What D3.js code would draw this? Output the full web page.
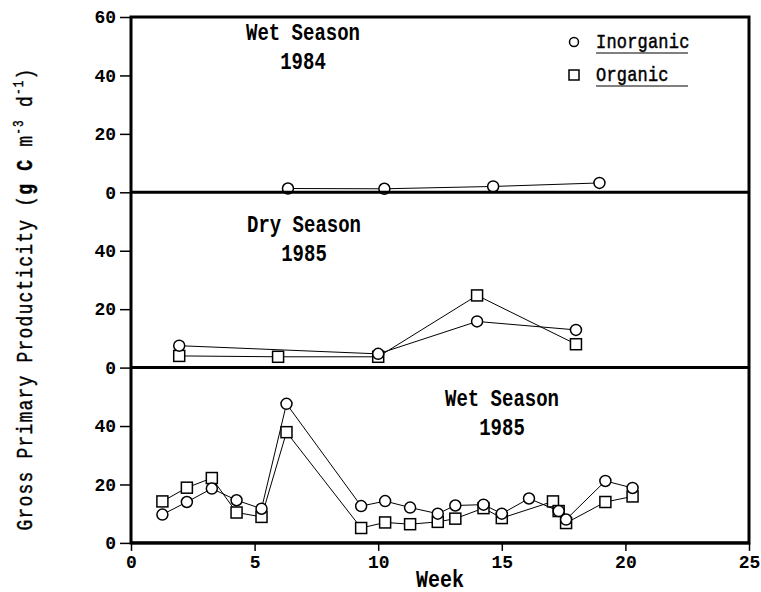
<!DOCTYPE html>
<html>
<head>
<meta charset="utf-8">
<script src="https://cdn.jsdelivr.net/npm/d3@7/dist/d3.min.js"></script>
<style>
  body { margin: 0; background: #fff; }
  text { font-family: "Liberation Mono", "Courier New", monospace; fill: #000; }
</style>
</head>
<body>
<div id="content"></div>
<script>
// Panel 1: wet season 1984 (only inorganic measured)
var wet84Weeks = [6.35, 10.25, 14.65, 18.95];
var wet84Inorganic = [1.3, 1.2, 2.0, 3.2];

// Panel 2: dry season 1985
var dry85InorgWeeks = [1.95, 10.0, 14.0, 18.0];
var dry85Inorganic = [7.5, 4.7, 15.8, 12.9];
var dry85OrgWeeks = [1.95, 5.95, 10.0, 14.0, 18.0];
var dry85Organic = [4.0, 3.7, 3.7, 24.7, 8.0];

// Panel 3: wet season 1985
var wet85InorgWeeks = [1.27, 2.26, 3.27, 4.27, 5.28, 6.29, 9.31, 10.28, 11.29, 12.41, 13.12, 14.26, 15.0, 16.1, 17.3, 17.6, 19.19, 20.29];
var wet85Inorganic = [9.7, 14.0, 18.6, 14.6, 11.7, 47.6, 12.6, 14.3, 12.1, 10.0, 12.8, 13.1, 10.0, 15.2, 10.9, 8.0, 21.2, 18.8];
var wet85OrgWeeks = [1.27, 2.26, 3.27, 4.27, 5.28, 6.29, 9.31, 10.28, 11.29, 12.41, 13.12, 14.26, 15.0, 17.07, 17.3, 17.6, 19.19, 20.29];
var wet85Organic = [14.2, 18.9, 22.2, 10.4, 8.9, 37.9, 5.1, 7.0, 6.4, 7.2, 8.3, 11.9, 8.5, 14.2, 10.9, 6.8, 14.0, 15.9];

var weekTicks = [0, 5, 10, 15, 20, 25];
var legendLabels = ['Inorganic', 'Organic'];

var width = 761, height = 592;
// note: "top" is taken by window.top, so use plotTop
var plotLeft = 131, plotRight = 749, plotTop = 17, panelH = 175.3;

var svg = d3.select('#content').append('svg')
    .attr('width', width)
    .attr('height', height);

var x = d3.scaleLinear().domain([0, 25]).range([plotLeft, plotRight]);

function zip(xs, ys) {
    return xs.map(function(d, i) { return [d, ys[i]]; });
}

// the original typewriter lettering is taller than Courier, so stretch it a bit
function tallText(sel, tx, ty, sy) {
    return sel.append('text')
        .attr('transform', 'translate(' + tx + ',' + ty + ') scale(1,' + sy + ')');
}

var panels = [
    {
        title: ['Wet Season', '1984'], tx: 303, ty: 40,
        ticks: [0, 20, 40, 60],
        inorg: zip(wet84Weeks, wet84Inorganic), org: []
    },
    {
        title: ['Dry Season', '1985'], tx: 304, ty: 232,
        ticks: [0, 20, 40],
        inorg: zip(dry85InorgWeeks, dry85Inorganic), org: zip(dry85OrgWeeks, dry85Organic)
    },
    {
        title: ['Wet Season', '1985'], tx: 502, ty: 406,
        ticks: [0, 20, 40],
        inorg: zip(wet85InorgWeeks, wet85Inorganic), org: zip(wet85OrgWeeks, wet85Organic)
    }
];

panels.forEach(function(p, i) {
    var y0 = plotTop + panelH * (i + 1);
    var y = d3.scaleLinear().domain([0, 60]).range([y0, y0 - panelH]);
    var g = svg.append('g');

    // left axis
    var ax = g.append('g')
        .attr('transform', 'translate(' + plotLeft + ',0)')
        .call(d3.axisLeft(y).tickValues(p.ticks).tickSize(11).tickPadding(4));
    ax.select('.domain').remove();
    ax.selectAll('line').attr('stroke', '#000').attr('stroke-width', 1.5);
    ax.selectAll('text')
        .style('font-family', '"Liberation Mono", monospace')
        .style('font-weight', 'bold')
        .style('font-size', '18px');

    var line = d3.line()
        .x(function(d) { return x(d[0]); })
        .y(function(d) { return y(d[1]); });

    // organic first so inorganic circles sit on top
    g.append('path').datum(p.org)
        .attr('d', line).attr('fill', 'none').attr('stroke', '#000').attr('stroke-width', 1);
    g.append('path').datum(p.inorg)
        .attr('d', line).attr('fill', 'none').attr('stroke', '#000').attr('stroke-width', 1);

    g.selectAll('rect.org').data(p.org).enter().append('rect')
        .attr('class', 'org')
        .attr('x', function(d) { return x(d[0]) - 5.5; })
        .attr('y', function(d) { return y(d[1]) - 5.5; })
        .attr('width', 11).attr('height', 11)
        .attr('fill', '#fff').attr('stroke', '#000').attr('stroke-width', 1.5);

    g.selectAll('circle.inorg').data(p.inorg).enter().append('circle')
        .attr('class', 'inorg')
        .attr('cx', function(d) { return x(d[0]); })
        .attr('cy', function(d) { return y(d[1]); })
        .attr('r', 5.5)
        .attr('fill', '#fff').attr('stroke', '#000').attr('stroke-width', 1.5);

    // panel title
    tallText(g, p.tx, p.ty, 1.25)
        .attr('text-anchor', 'middle')
        .style('font-weight', 'bold').style('font-size', '19px')
        .text(p.title[0]);
    tallText(g, p.tx, p.ty + 29, 1.25)
        .attr('text-anchor', 'middle')
        .style('font-weight', 'bold').style('font-size', '19px')
        .text(p.title[1]);

    // divider / bottom line
    svg.append('line')
        .attr('x1', plotLeft).attr('x2', plotRight)
        .attr('y1', y0).attr('y2', y0)
        .attr('stroke', '#000').attr('stroke-width', 3);
});

// frame
svg.append('rect')
    .attr('x', plotLeft).attr('y', plotTop)
    .attr('width', plotRight - plotLeft).attr('height', panelH * 3)
    .attr('fill', 'none').attr('stroke', '#000').attr('stroke-width', 3);

// bottom axis
var xAxis = svg.append('g')
    .attr('transform', 'translate(0,' + (plotTop + panelH * 3) + ')')
    .call(d3.axisBottom(x).tickValues(weekTicks).tickSize(8).tickPadding(4));
xAxis.select('.domain').remove();
xAxis.selectAll('line').attr('stroke', '#000').attr('stroke-width', 1.5);
xAxis.selectAll('text')
    .style('font-family', '"Liberation Mono", monospace')
    .style('font-weight', 'bold')
    .style('font-size', '18px');

tallText(svg, (plotLeft + plotRight) / 2, 587, 1.15)
    .attr('text-anchor', 'middle')
    .style('font-weight', 'bold').style('font-size', '20px')
    .text('Week');

// y label
var ylab = svg.append('text')
    .attr('transform', 'translate(32,299) rotate(-90) scale(1,1.25)')
    .attr('text-anchor', 'middle')
    .style('font-size', '18px')
    .style('letter-spacing', '1.2px')
    .style('stroke', '#000').style('stroke-width', 0.35);
ylab.append('tspan').text('Gross Primary Producticity (');
ylab.append('tspan').style('font-weight', 'bold').text('g C');
ylab.append('tspan').text(' m');
ylab.append('tspan').attr('dy', -7).style('font-size', '11px').text('-3');
ylab.append('tspan').attr('dy', 7).text(' d');
ylab.append('tspan').attr('dy', -7).style('font-size', '11px').text('-1');
ylab.append('tspan').attr('dy', 7).text(')');

// legend
var legend = svg.append('g');
legendLabels.forEach(function(name, i) {
    var ly = 42 + i * 33;
    if (i === 0) {
        legend.append('circle').attr('cx', 574).attr('cy', ly).attr('r', 4.5)
            .attr('fill', '#fff').attr('stroke', '#000').attr('stroke-width', 1.5);
    } else {
        legend.append('rect').attr('x', 569).attr('y', ly - 5).attr('width', 10).attr('height', 10)
            .attr('fill', '#fff').attr('stroke', '#000').attr('stroke-width', 1.5);
    }
    tallText(legend, 596, ly + 6, 1.2)
        .style('font-size', '17px').style('letter-spacing', '0.2px')
        .style('stroke', '#000').style('stroke-width', 0.4)
        .text(name);
    legend.append('line')
        .attr('x1', 596).attr('x2', 688)
        .attr('y1', ly + 11).attr('y2', ly + 11)
        .attr('stroke', '#000').attr('stroke-width', 1.2);
});
</script>
</body>
</html>
